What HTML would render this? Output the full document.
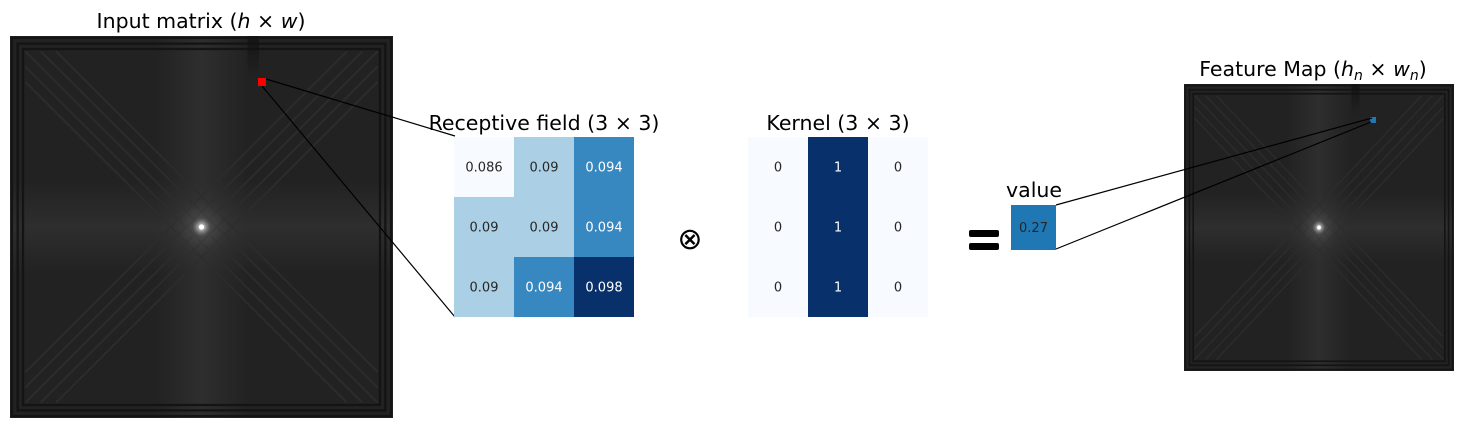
<!DOCTYPE html>
<html><head><meta charset="utf-8">
<style>
html,body{margin:0;padding:0;background:#fff;width:1480px;height:429px;overflow:hidden}
svg{display:block}
text{font-family:"DejaVu Sans","Liberation Sans",sans-serif}
</style></head>
<body>
<svg id="fig" width="1480" height="429" viewBox="0 0 1480 429" xmlns="http://www.w3.org/2000/svg">
<defs>
  <radialGradient id="glow" cx="0.5" cy="0.5" r="0.5">
    <stop offset="0" stop-color="#ffffff" stop-opacity="1"/>
    <stop offset="0.06" stop-color="#cfcfcf" stop-opacity="0.8"/>
    <stop offset="0.2" stop-color="#777" stop-opacity="0.3"/>
    <stop offset="0.6" stop-color="#444" stop-opacity="0.1"/>
    <stop offset="1" stop-color="#333" stop-opacity="0"/>
  </radialGradient>
  <linearGradient id="hband" x1="0" y1="0" x2="0" y2="1">
    <stop offset="0" stop-color="#3a3a3a" stop-opacity="0"/>
    <stop offset="0.5" stop-color="#3a3a3a" stop-opacity="0.5"/>
    <stop offset="1" stop-color="#3a3a3a" stop-opacity="0"/>
  </linearGradient>
  <linearGradient id="vband" x1="0" y1="0" x2="1" y2="0">
    <stop offset="0" stop-color="#3a3a3a" stop-opacity="0"/>
    <stop offset="0.5" stop-color="#3a3a3a" stop-opacity="0.5"/>
    <stop offset="1" stop-color="#3a3a3a" stop-opacity="0"/>
  </linearGradient>
  <linearGradient id="topdark" x1="0" y1="0" x2="0" y2="1">
    <stop offset="0" stop-color="#111" stop-opacity="0.8"/>
    <stop offset="1" stop-color="#111" stop-opacity="0"/>
  </linearGradient>
  <symbol id="field" viewBox="0 0 100 100" preserveAspectRatio="none">
    <rect x="0" y="0" width="100" height="100" fill="#222"/>
    <rect x="0" y="38" width="100" height="24" fill="url(#hband)"/>
    <rect x="38" y="0" width="24" height="100" fill="url(#vband)"/>
    <g stroke="#2c2c2c" stroke-width="0.5" fill="none">
      <path d="M4 4 L50 50 L96 4 M4 96 L50 50 L96 96"/>
      <path d="M8 4 L52 48 M12 4 L54 46 M4 8 L48 52 M4 12 L46 54"/>
      <path d="M92 4 L48 48 M88 4 L46 46 M96 8 L52 52 M96 12 L54 54"/>
      <path d="M8 96 L52 52 M12 96 L54 54 M4 92 L48 48 M4 88 L46 46"/>
      <path d="M92 96 L48 52 M88 96 L46 54 M96 92 L52 48 M96 88 L54 46"/>
    </g>
    <g stroke="#141414" fill="none" stroke-width="0.6">
      <rect x="0.5" y="0.5" width="99" height="99"/>
      <rect x="2" y="2" width="96" height="96"/>
      <rect x="3.4" y="3.4" width="93.2" height="93.2"/>
    </g>
    <rect x="62" y="0" width="3" height="11" fill="url(#topdark)"/>
    <circle cx="50" cy="50" r="12" fill="url(#glow)"/>
    <circle cx="50" cy="50" r="0.7" fill="#fff"/>
  </symbol>
</defs>

<text x="201" y="28" font-size="20.5" text-anchor="middle" fill="#000">Input matrix (<tspan font-style="italic">h</tspan> × <tspan font-style="italic">w</tspan>)</text>
<use href="#field" x="10" y="36" width="383" height="382"/>
<rect x="258" y="78" width="8" height="8" fill="#ff0000"/>
<line x1="266" y1="79" x2="455" y2="136" stroke="#000" stroke-width="1.2"/>
<line x1="262" y1="86" x2="455" y2="317" stroke="#000" stroke-width="1.2"/>

<text x="544" y="130" font-size="20.5" text-anchor="middle" fill="#000">Receptive field (3 × 3)</text>
<g id="rf"></g>

<text x="690" y="249" font-size="30" text-anchor="middle" fill="#000">⊗</text>

<text x="838" y="130" font-size="20.5" text-anchor="middle" fill="#000">Kernel (3 × 3)</text>
<g id="kr"></g>

<g>
  <rect x="969" y="230" width="30" height="7" rx="2" fill="#000"/>
  <rect x="969" y="243" width="30" height="7" rx="2" fill="#000"/>
</g>

<text x="1034" y="197" font-size="20.5" text-anchor="middle" fill="#000">value</text>
<rect x="1011" y="205" width="45" height="45" fill="#1f77b4"/>
<text id="valtext" x="1033.5" y="232" font-size="13" text-anchor="middle" fill="#262626"></text>

<text x="1313" y="76" font-size="20.5" text-anchor="middle" fill="#000">Feature Map (<tspan font-style="italic">h</tspan><tspan font-style="italic" font-size="14" dy="4">n</tspan><tspan dy="-4"> × </tspan><tspan font-style="italic">w</tspan><tspan font-style="italic" font-size="14" dy="4">n</tspan><tspan dy="-4">)</tspan></text>
<use href="#field" x="1184" y="84" width="270" height="287"/>
<rect x="1370" y="117" width="6" height="6" fill="#1f77b4"/>
<line x1="1056" y1="205" x2="1372" y2="118" stroke="#000" stroke-width="1.2"/>
<line x1="1056" y1="249" x2="1371" y2="122" stroke="#000" stroke-width="1.2"/>
</svg>
<script>
const receptiveValues = [[0.086,0.09,0.094],[0.09,0.09,0.094],[0.09,0.094,0.098]];
const receptiveLabels = [["0.086","0.09","0.094"],["0.09","0.09","0.094"],["0.09","0.094","0.098"]];
const kernelValues = [[0,1,0],[0,1,0],[0,1,0]];
const outputValue = 0.27;

const NS = "http://www.w3.org/2000/svg";
const blues = [[247,251,255],[222,235,247],[198,219,239],[158,202,225],[107,174,214],[66,146,198],[33,113,181],[8,81,156],[8,48,107]];
function bluesColor(t){
  t = Math.max(0, Math.min(1, t));
  const p = t*(blues.length-1), i = Math.min(Math.floor(p), blues.length-2), f = p-i;
  const c = blues[i].map((v,k)=>Math.round(v+(blues[i+1][k]-v)*f));
  return {fill:"rgb("+c.join(",")+")", dark:t>0.5};
}
function drawGrid(gId, vals, labels, x0, y0, cell){
  const g = document.getElementById(gId);
  const flat = vals.flat(), mn = Math.min(...flat), mx = Math.max(...flat);
  vals.forEach((row,r)=>row.forEach((v,c)=>{
    const col = bluesColor(mx===mn?0:(v-mn)/(mx-mn));
    const rect = document.createElementNS(NS,"rect");
    rect.setAttribute("x", x0+c*cell); rect.setAttribute("y", y0+r*cell);
    rect.setAttribute("width", cell); rect.setAttribute("height", cell);
    rect.setAttribute("fill", col.fill);
    
    
    g.appendChild(rect);
    const t = document.createElementNS(NS,"text");
    t.setAttribute("x", x0+c*cell+cell/2); t.setAttribute("y", y0+r*cell+cell/2+4.5);
    t.setAttribute("font-size","13"); t.setAttribute("text-anchor","middle");
    t.setAttribute("fill", col.dark?"#ffffff":"#262626");
    t.textContent = labels ? labels[r][c] : String(v);
    
    
    g.appendChild(t);
  }));
}
drawGrid("rf", receptiveValues, receptiveLabels, 454, 137, 60);
drawGrid("kr", kernelValues, null, 748, 137, 60);
document.getElementById("valtext").textContent = String(outputValue);
</script>
</body></html>
